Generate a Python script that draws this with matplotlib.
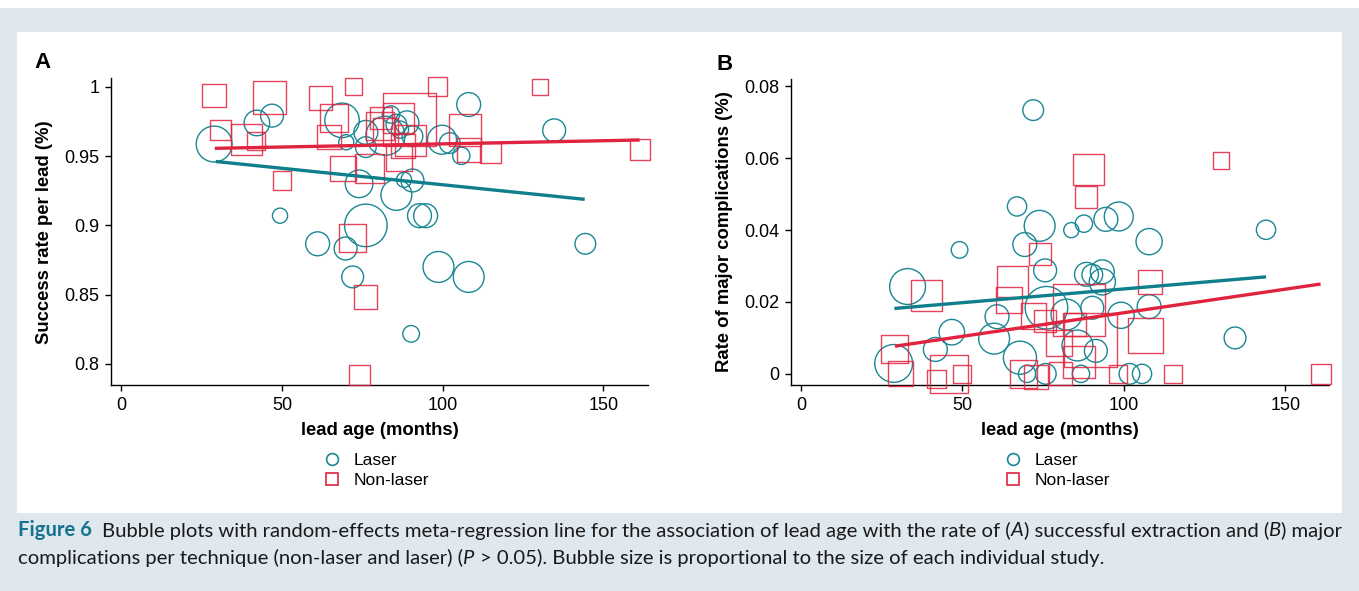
import matplotlib
matplotlib.use("Agg")
import matplotlib.pyplot as plt
from matplotlib.lines import Line2D
from matplotlib.patches import Rectangle
import numpy as np

# ---------------- data ----------------
# Panel A: success rate per lead
a_laser_age = [28.9, 42.2, 46.9, 68.7, 70.0, 76.1, 76.1, 82.2, 83.9, 85.6, 86.7, 88.9, 90.6,
               99.8, 102.2, 105.8, 108.1, 134.7, 74.0, 85.6, 88.0, 90.6, 49.4, 76.1, 92.8,
               94.7, 61.1, 69.8, 144.4, 98.7, 108.1, 72.0, 90.2]
a_laser_rate = [0.9587, 0.9739, 0.9792, 0.9758, 0.9600, 0.9671, 0.9565, 0.9647, 0.9800, 0.9727,
                0.9691, 0.9740, 0.9643, 0.9618, 0.9594, 0.9502, 0.9872, 0.9686, 0.9300, 0.9220,
                0.9329, 0.9324, 0.9070, 0.9000, 0.9070, 0.9070, 0.8867, 0.8833, 0.8867, 0.8700,
                0.8628, 0.8628, 0.8217]
a_laser_n = [27, 13.7, 11, 25, 4.8, 12, 9, 32, 6.3, 9, 6.3, 12, 9, 17.6, 9, 6.3, 12, 11, 16, 20,
             4.8, 11, 4.8, 38, 12, 12, 12, 11, 9, 20, 20, 10, 5.8]

a_nonlaser_age = [28.9, 46.1, 62.0, 72.2, 98.4, 130.4, 30.8, 38.9, 41.9, 66.1, 64.6, 80.8, 80.6,
                  86.2, 89.6, 82.2, 87.8, 90.0, 106.9, 108.3, 114.8, 161.4, 68.9, 77.2, 86.4,
                  50.0, 72.0, 76.0, 74.1]
a_nonlaser_rate = [0.9937, 0.9920, 0.9920, 1.0000, 1.0000, 1.0000, 0.9688, 0.9618, 0.9610, 0.9775,
                   0.9635, 0.9775, 0.9715, 0.9775, 0.9763, 0.9679, 0.9570, 0.9614, 0.9690, 0.9546,
                   0.9522, 0.9546, 0.9410, 0.9410, 0.9486, 0.9324, 0.8910, 0.8483, 0.7920]
a_nonlaser_n = [11.6, 23, 11.6, 6.3, 7.3, 5.3, 9, 20, 7.3, 16, 12, 10, 16, 20, 59, 14, 12, 20, 22,
                12, 9, 9, 14, 18.5, 14, 7.3, 16, 12, 9]

# Panel B: major complications
b_laser_age = [71.9, 66.9, 73.9, 83.7, 87.6, 94.4, 98.4, 49.1, 69.3, 107.8, 144.0, 75.6, 88.4,
               93.3, 93.3, 33.0, 90.2, 76.0, 82.2, 90.2, 99.1, 107.8, 60.7, 59.8, 46.7, 41.6,
               85.6, 91.3, 134.4, 28.7, 67.8, 70.0, 75.8, 86.7, 101.7, 105.6]
b_laser_rate = [0.0734, 0.0466, 0.0412, 0.0400, 0.0418, 0.0430, 0.0438, 0.0345, 0.0360, 0.0368,
                0.0401, 0.0288, 0.0277, 0.0284, 0.0256, 0.0243, 0.0276, 0.0184, 0.0165, 0.0184,
                0.0163, 0.0187, 0.0159, 0.0098, 0.0116, 0.0068, 0.0079, 0.0064, 0.0100, 0.0029,
                0.0045, 0.0000, 0.0000, 0.0000, 0.0000, 0.0000]
b_laser_n = [9, 7.8, 20, 4.8, 6.3, 12, 17.6, 5.8, 12, 14.4, 7.8, 11, 12, 12, 14.4, 27, 9, 38, 20,
             11, 14.4, 12, 12, 20, 13.7, 12, 20, 11, 10, 30, 23, 6.3, 9, 6.3, 9, 7.8]

b_nonlaser_age = [88.9, 88.2, 130.0, 74.0, 65.6, 64.4, 38.9, 108.0, 86.1, 72.0, 75.6, 84.8, 80.0,
                  89.6, 106.7, 28.9, 30.8, 45.8, 41.9, 49.8, 68.9, 72.8, 80.3, 98.2, 115.2,
                  161.0, 86.1]
b_nonlaser_rate = [0.0569, 0.0493, 0.0593, 0.0334, 0.0258, 0.0205, 0.0219, 0.0256, 0.0177, 0.0161,
                   0.0147, 0.0138, 0.0086, 0.0094, 0.0107, 0.0070, 0.0000, 0.0000, -0.0014, 0.0000,
                   0.0000, -0.0008, 0.0000, 0.0000, 0.0000, 0.0000, 0.0033]
b_nonlaser_n = [20, 10, 5.8, 10, 20, 14, 20, 11.6, 56, 14, 10, 11, 14, 60, 25, 16, 13, 30, 7.3,
                7.3, 16, 12, 11, 7.3, 6.3, 9, 22]

# meta-regression fitted lines (age range, fitted values at ends)
a_laser_fit_age = [29.4, 144.2]
a_laser_fit = [0.9461, 0.9188]
a_nonlaser_fit_age = [29.1, 161.3]
a_nonlaser_fit = [0.9556, 0.9616]
b_laser_fit_age = [28.9, 144.0]
b_laser_fit = [0.0182, 0.0270]
b_nonlaser_fit_age = [29.1, 160.9]
b_nonlaser_fit = [0.0077, 0.0250]

a_yticks = [0.8, 0.85, 0.9, 0.95, 1.0]
b_yticks = [0, 0.02, 0.04, 0.06, 0.08]
xticks = [0, 50, 100, 150]
legend_labels = ["Laser", "Non-laser"]

# ---------------- style ----------------
W, H, DPI = 1359, 591, 100
TEAL = "#1a8794"
TEAL_LINE = "#0e7f8b"
RED = "#e0233f"
BG = "#dfe7ef"
CAP_TEAL = "#15738e"
SIZE_K = 24.7
FONT = ["Liberation Sans", "DejaVu Sans"]
plt.rcParams["font.family"] = FONT

fig = plt.figure(figsize=(W / DPI, H / DPI), dpi=DPI)
fig.patch.set_facecolor("white")
fig.patches.append(Rectangle((0, 0), 1, 1 - 8 / H, transform=fig.transFigure,
                             facecolor=BG, edgecolor="none", zorder=-10))
fig.patches.append(Rectangle((17 / W, 1 - 513 / H), (1342 - 17) / W, (513 - 32) / H,
                             transform=fig.transFigure, facecolor="white",
                             edgecolor="none", zorder=-9))


def px_axes(left, top, right, bottom):
    return fig.add_axes([left / W, 1 - bottom / H, (right - left) / W, (bottom - top) / H])


def style_axes(ax, xlim, ylim, yticks, ylabel, ylabel_x):
    ax.set_xlim(*xlim)
    ax.set_ylim(*ylim)
    ax.set_xticks(xticks)
    ax.set_yticks(yticks)
    ax.set_yticklabels(["%g" % v for v in yticks])
    for s in ("top", "right"):
        ax.spines[s].set_visible(False)
    for s in ("left", "bottom"):
        ax.spines[s].set_linewidth(1.0)
    ax.tick_params(direction="out", length=4.5, width=1.0, labelsize=13, pad=4)
    ax.set_facecolor("none")
    ax.set_xlabel("lead age (months)", fontsize=13.3, fontweight="bold", labelpad=6)
    ax.set_ylabel(ylabel, fontsize=13.3, fontweight="bold")
    ax.yaxis.set_label_coords(ylabel_x, 0.5)


def draw_panel(ax, la, lr, ln, na, nr, nn, lfa, lf, nfa, nf):
    ax.scatter(la, lr, s=np.array(ln) * SIZE_K, marker="o", facecolors="none",
               edgecolors=TEAL, linewidths=1.0, clip_on=False, zorder=2)
    ax.scatter(na, nr, s=np.array(nn) * SIZE_K, marker="s", facecolors="none",
               edgecolors=RED, linewidths=1.0, alpha=0.85, clip_on=False, zorder=3)
    ax.plot(lfa, lf, color=TEAL_LINE, lw=2.4, solid_capstyle="butt", zorder=4)
    ax.plot(nfa, nf, color=RED, lw=2.4, solid_capstyle="butt", zorder=5)


def legend(ax, cx_px, cy_px):
    handles = [Line2D([], [], ls="none", marker="o", ms=8.5, mfc="none", mec=TEAL, mew=1.2),
               Line2D([], [], ls="none", marker="s", ms=8.5, mfc="none", mec=RED, mew=1.2)]
    ax.legend(handles, legend_labels, loc="center left",
              bbox_to_anchor=(cx_px / W, 1 - cy_px / H), bbox_transform=fig.transFigure,
              frameon=False, fontsize=12.5, handlelength=1.0, handletextpad=0.75,
              labelspacing=0.3, borderpad=0, borderaxespad=0)


axA = px_axes(111, 78.5, 648, 385)
draw_panel(axA, a_laser_age, a_laser_rate, a_laser_n, a_nonlaser_age, a_nonlaser_rate,
           a_nonlaser_n, a_laser_fit_age, a_laser_fit, a_nonlaser_fit_age, a_nonlaser_fit)
style_axes(axA, (-3.2, 163.9), (0.7848, 1.006), a_yticks, "Success rate per lead (%)", -0.108)
legend(axA, 323, 470.5)

axB = px_axes(791, 78.5, 1329, 385)
draw_panel(axB, b_laser_age, b_laser_rate, b_laser_n, b_nonlaser_age, b_nonlaser_rate,
           b_nonlaser_n, b_laser_fit_age, b_laser_fit, b_nonlaser_fit_age, b_nonlaser_fit)
style_axes(axB, (-3.1, 163.5), (-0.0031, 0.0822), b_yticks,
           "Rate of major complications (%)", -0.107)
legend(axB, 1004, 470.5)

fig.text(43 / W, 1 - 63 / H, "A", fontsize=16, fontweight="bold", ha="center", va="center")
fig.text(724.5 / W, 1 - 64 / H, "B", fontsize=16, fontweight="bold", ha="center", va="center")

# ---------------- caption ----------------
CAP_FONT = ["Liberation Sans Narrow", "Lato", "DejaVu Sans"]
renderer = fig.canvas.get_renderer()

line1 = [("Figure 6", dict(fontweight="bold", color=CAP_TEAL, family=["Lato", "DejaVu Sans"])),
         ("  Bubble plots with random-effects meta-regression line for the association of lead age with the rate of (", {}),
         ("A", dict(style="italic")),
         (") successful extraction and (", {}),
         ("B", dict(style="italic")),
         (") major", {})]
line2 = [("complications per technique (non-laser and laser) (", {}),
         ("P", dict(style="italic")),
         (" > 0.05). Bubble size is proportional to the size of each individual study.", {})]


def space_width(fs, kw):
    f = kw.get("family", CAP_FONT)
    t1 = fig.text(0, 0, "a a", fontsize=fs, family=f)
    t2 = fig.text(0, 0, "aa", fontsize=fs, family=f)
    w = t1.get_window_extent(renderer).width - t2.get_window_extent(renderer).width
    t1.remove(); t2.remove()
    return w


def draw_line(segs, x0, ybase, fs, keep=True):
    x = x0
    made = []
    for s, kw in segs:
        kw = dict(kw)
        fam = kw.pop("family", CAP_FONT)
        col = kw.pop("color", "#1a1a1a")
        sw = space_width(fs, dict(family=fam))
        lead = len(s) - len(s.lstrip(" "))
        trail = len(s) - len(s.rstrip(" "))
        x += lead * sw
        core = s.strip(" ")
        t = fig.text(x / W, 1 - ybase / H, core, fontsize=fs, family=fam, color=col,
                     ha="left", va="baseline", **kw)
        x += t.get_window_extent(renderer).width + trail * sw
        made.append(t)
    if not keep:
        for t in made:
            t.remove()
    return x


fs0 = 13.0
end = draw_line(line1, 18, 536.5, fs0, keep=False)
fs = fs0 * (1341 - 18) / (end - 18)
draw_line(line1, 18, 536.5, fs)
draw_line(line2, 18, 564, fs)

fig.savefig("out.png", dpi=DPI, facecolor=fig.get_facecolor())
